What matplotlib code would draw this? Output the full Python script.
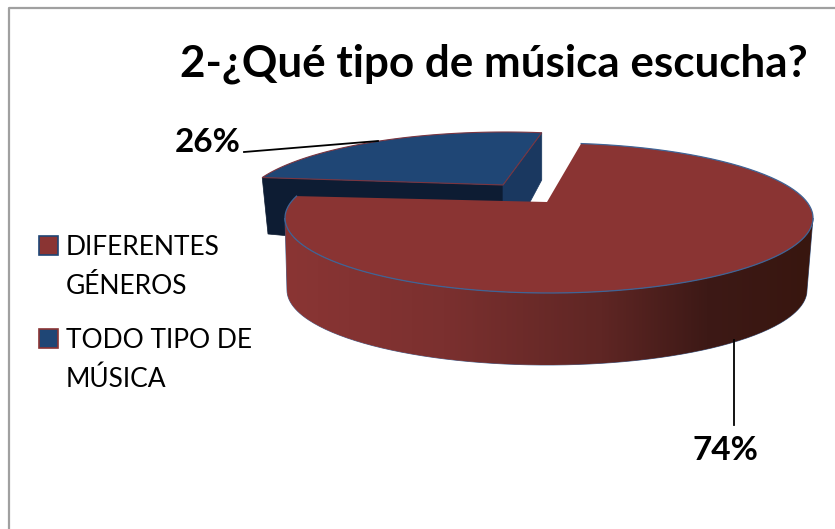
import numpy as np
import matplotlib
matplotlib.use('Agg')
import matplotlib.pyplot as plt
from matplotlib.patches import Polygon, Rectangle, PathPatch
from matplotlib.path import Path
from matplotlib.colors import LinearSegmentedColormap

title = '2-¿Qué tipo de música escucha?'
categories = ['DIFERENTES\nGÉNEROS', 'TODO TIPO DE\nMÚSICA']
shares = [0.26, 0.74]
pct_labels = ['26%', '74%']

RED = '#8a3433'
BLUE = '#1f4675'
FONT = 'Lato'

plt.rcParams['font.family'] = [FONT, 'DejaVu Sans']

fig = plt.figure(figsize=(8.35, 5.29), dpi=100)
ax = fig.add_axes([0, 0, 1, 1])
# axes in image pixels, y down
ax.set_xlim(0, 835)
ax.set_ylim(529, 0)
ax.axis('off')


def arc(cx, cy, a, b, t0, t1, n=200):
    t = np.radians(np.linspace(t0, t1, n))
    return np.column_stack([cx + a*np.cos(t), cy - b*np.sin(t)])


# outer frame, only left and top show
ax.plot([8.5, 8.5, 835], [529, 8, 8], color='#a0a0a0', lw=1.6)

# perspective squeezes the angles on the ellipse a little
blue_t0 = 82
blue_t1 = blue_t0 + shares[0]*360*0.80
red_t0 = 83
red_t1 = red_t0 - shares[1]*360*1.051

# blue slice, pulled out to the back
bc = (505, 207)
b_top = arc(bc[0], bc[1], 264, 75, blue_t0, blue_t1)
b_apex = (503, 185)
ax.add_patch(Polygon([b_top[-1], b_apex, (503, 240), (290, 236), (268, 234)],
                     fc='#0d1c33', ec='#0d1c33', lw=0.5, zorder=2))
ax.add_patch(Polygon([b_apex, b_top[0], (b_top[0][0], 180), (530, 202), (503, 202)],
                     fc='#1a3860', ec='#1a3860', lw=0.5, zorder=2))
ax.add_patch(Polygon(np.vstack([b_top, [b_apex]]), fc=BLUE, ec='#7a3540', lw=0.8, zorder=3))

# red slice
rc = (549, 218)
r_a, r_b = 264, 75
r_apex = (547, 202)
r_top = arc(rc[0], rc[1], r_a, r_b, red_t0, red_t1, 400)

# red side wall, shaded left to right
front_top = arc(rc[0], rc[1], r_a, r_b, -180, 0)
front_bot = arc(547, 290, 260, 75, 0, -180)
wall = np.vstack([front_top, front_bot])
clip = PathPatch(Path(np.vstack([wall, wall[:1]])), fc='none', ec='#3f6496', lw=0.6, zorder=4)
ax.add_patch(clip)
shade = LinearSegmentedColormap.from_list(
    'shade', [(0, '#8a3534'), (0.3, '#7b302f'), (0.6, '#5f2624'), (0.8, '#3d1916'), (1, '#38160f')])
im = ax.imshow(np.linspace(0, 1, 256)[None, :], cmap=shade, extent=(285, 813, 365, 218),
               aspect='auto', zorder=4)
im.set_clip_path(clip)
ax.set_xlim(0, 835)
ax.set_ylim(529, 0)

ax.add_patch(Polygon(np.vstack([r_top, [r_apex]]), fc=RED, ec='none', zorder=5))
ax.plot(r_top[:, 0], r_top[:, 1], color='#3f6496', lw=0.9, zorder=5)

# leader lines and percent labels
ax.plot([244, 378], [152, 141], color='black', lw=1.3, zorder=6)
ax.plot([734, 734], [340, 425], color='black', lw=1.3, zorder=6)
ax.text(208, 142, pct_labels[0], fontsize=24, fontweight='bold', ha='center', va='center')
ax.text(725, 450, pct_labels[1], fontsize=24, fontweight='bold', ha='center', va='center')

# title
ax.text(493.5, 77, title, fontsize=31.7, fontweight='bold', ha='center', va='baseline')

# legend
swatches = [(RED, BLUE), (BLUE, RED)]
for (fc, ec), y0, label in zip(swatches, [236, 329], categories):
    ax.add_patch(Rectangle((39, y0), 19, 19, fc=fc, ec=ec, lw=1.2))
    first, second = label.split('\n')
    ax.text(66, y0 + 19, first, fontsize=19, va='baseline', ha='left')
    ax.text(66, y0 + 58, second, fontsize=19, va='baseline', ha='left')

fig.savefig('out.png', dpi=100)
